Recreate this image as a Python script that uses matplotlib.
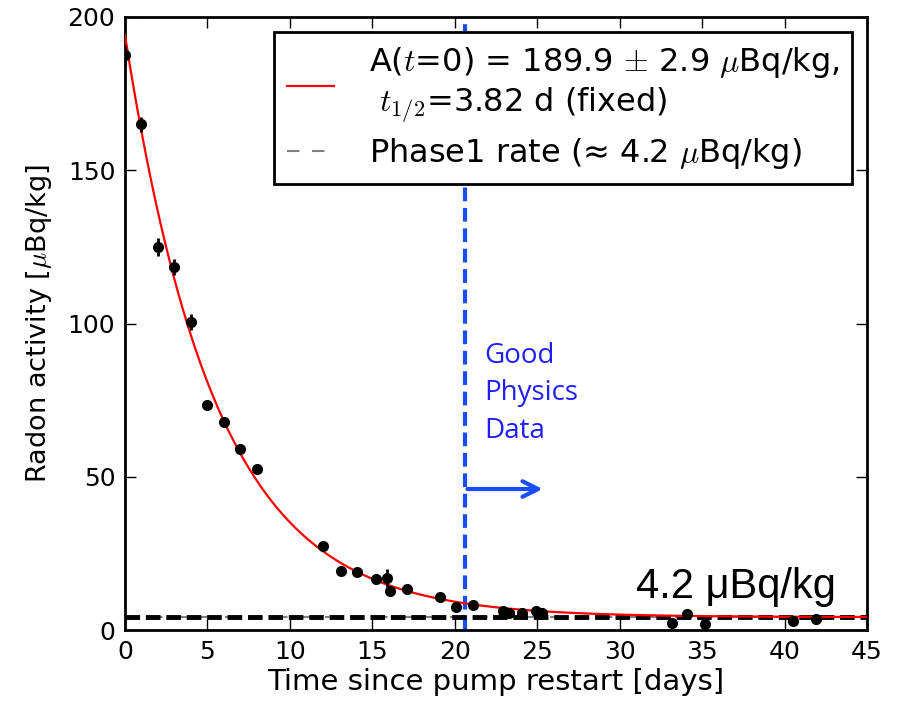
import numpy as np
import matplotlib
matplotlib.use('Agg')
import matplotlib.pyplot as plt

# measured radon activity after pump restart
days = [0, 1, 2, 3, 4, 5, 6, 7, 8, 12, 13.1, 14.1, 15.2, 15.9, 16.1, 17.1,
        19.1, 20.1, 21.1, 22.9, 23.3, 24.1, 24.9, 25.3, 33.2, 34.1, 35.2, 40.5, 41.9]
activity = [187.5, 165, 125, 118.4, 100.5, 73.4, 67.9, 59, 52.5, 27.5, 19.3, 19, 16.6, 17,
            12.8, 13.4, 10.7, 7.4, 8.1, 6.3, 5.4, 5.4, 6.3, 5.7, 2.2, 5.2, 2.0, 2.9, 3.7]
errors = [3, 2.5, 3, 2.5, 2.5, 1.5, 1.5, 1.5, 1.5, 1, 1, 1, 1, 3, 1, 1,
          1, 1, 1, 1, 1, 1, 1, 1, 1, 1, 1, 1, 1]

A0 = 189.9
half_life = 3.82
phase1_rate = 4.2
good_data_start = 20.6

plt.rcParams['font.family'] = 'DejaVu Sans'
plt.rcParams['mathtext.fontset'] = 'cm'

fig = plt.figure(figsize=(9, 7.04), dpi=100)
ax = fig.add_axes([125 / 900, 1 - 630 / 704, 742 / 900, 613 / 704])

t = np.linspace(0, 45, 500)
fit = A0 * np.exp(-np.log(2) * t / half_life) + phase1_rate
ax.plot(t, fit, color='red', lw=1.6, zorder=3,
        label='A($t$=0) = 189.9 $\\pm$ 2.9 $\\mu$Bq/kg,\n $t_{1/2}$=3.82 d (fixed)')
ax.axhline(phase1_rate, color='gray', lw=1.5, ls='--', dashes=(6, 6),
           label='Phase1 rate (\u2248 4.2 $\\mu$Bq/kg)', zorder=2)
ax.axhline(phase1_rate, color='black', lw=3.5, ls='--', dashes=(3, 1.2), zorder=2)

ax.errorbar(days, activity, yerr=errors, fmt='o', color='black', ms=7,
            elinewidth=2, capsize=0, zorder=4)

ax.axvline(good_data_start, color='#1a4cff', lw=3, ls='--', dashes=(3.3, 1.6), zorder=1)
ax.annotate('', xy=(25.5, 46), xytext=(good_data_start, 46),
            arrowprops=dict(arrowstyle='->', color='#1a4cff', lw=3,
                            mutation_scale=28))
ax.text(21.8, 94, 'Good\nPhysics\nData', color='#1f1fff', fontsize=20,
        family='Open Sans', va='top', linespacing=1.45)
ax.text(43.1, 10.4, '4.2 \u03bcBq/kg', fontsize=30, family='Liberation Sans',
        ha='right', va='baseline')

ax.set_xlim(0, 45)
ax.set_ylim(0, 200)
ax.set_xticks(range(0, 46, 5))
ax.set_yticks(range(0, 201, 50))
ax.tick_params(labelsize=18, direction='in', length=8, width=1, top=True, right=True)
ax.tick_params(axis='x', pad=7)
ax.tick_params(axis='y', pad=7)
ax.set_xlabel('Time since pump restart [days]', fontsize=21, labelpad=3)
ax.set_ylabel('Radon activity [$\\mu$Bq/kg]', fontsize=19.5, labelpad=10)
for s in ax.spines.values():
    s.set_linewidth(2)

leg = ax.legend(loc='upper right', fontsize=23, fancybox=False, framealpha=1,
                edgecolor='black', handlelength=1.47, handletextpad=1.1,
                borderpad=0.4, labelspacing=0.35, borderaxespad=0,
                bbox_to_anchor=(0.98, 0.9755))
leg.get_frame().set_linewidth(2)

fig.savefig('out.png', dpi=100)
